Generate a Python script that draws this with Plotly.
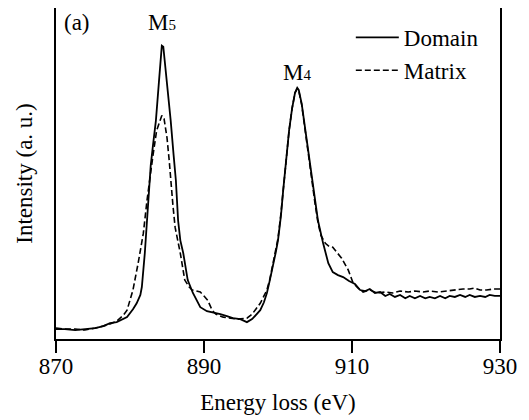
import plotly.graph_objects as go

# Energy loss (eV) and intensity (a. u.)
domain_energy = [870.0, 871.2, 872.6, 873.9, 875.3, 876.4, 877.3, 878.2, 879.1, 879.6, 880.4, 880.9, 881.4, 881.6,
                 882.0, 882.3, 882.6, 882.8, 883.1, 883.5, 883.9, 884.2, 884.3, 884.5, 884.7, 885.1, 885.5, 885.9,
                 886.2, 886.5, 886.8, 887.2, 887.8, 888.5, 889.5, 890.4, 891.2, 892.2, 893.1, 893.9, 894.9, 895.8,
                 896.5, 897.0, 897.6, 898.1, 898.5, 898.9, 899.3, 899.7, 900.0, 900.4, 900.7, 901.1, 901.5, 901.9,
                 902.3, 902.6, 902.8, 903.2, 903.6, 904.1, 904.5, 905.0, 905.4, 906.1, 906.8, 907.4, 908.1, 908.8,
                 909.6, 910.4, 911.1, 911.8, 912.4, 913.1, 913.8, 914.5, 915.1, 915.8, 916.5, 917.2, 917.8, 918.5,
                 919.2, 919.9, 920.5, 921.2, 921.9, 922.6, 923.2, 923.9, 924.6, 925.3, 925.9, 926.6, 927.3, 928.0,
                 928.6, 929.3, 930.0]
domain_intensity = [3.0, 3.0, 2.7, 3.0, 3.3, 3.9, 4.8, 5.1, 6.0, 6.6, 9.0, 10.8, 13.3, 15.7,
                    25.9, 35.8, 45.8, 52.4, 58.4, 66.0, 77.4, 86.4, 88.6, 88.3, 84.0, 75.0, 66.0, 55.4,
                    47.9, 35.8, 29.8, 25.9, 17.8, 13.9, 9.6, 8.4, 8.1, 7.5, 6.9, 6.3, 6.0, 5.1,
                    6.0, 7.2, 8.7, 11.1, 13.9, 17.8, 21.7, 26.2, 29.8, 37.3, 44.9, 53.9, 63.0, 69.6,
                    74.4, 75.9, 75.3, 71.1, 64.5, 56.9, 49.4, 41.9, 35.8, 28.9, 22.9, 20.2, 19.3, 18.7,
                    17.5, 16.6, 14.8, 14.5, 15.1, 13.9, 14.2, 13.0, 13.6, 12.7, 13.3, 12.3, 13.0, 12.3,
                    13.0, 12.3, 12.7, 12.3, 13.0, 12.3, 13.0, 12.7, 13.3, 12.7, 13.3, 12.7, 13.0, 12.7,
                    13.3, 13.0, 13.0]

matrix_energy = [870.0, 871.2, 872.6, 873.9, 875.3, 876.4, 877.3, 878.2, 879.1, 879.6, 880.4, 881.1, 881.8, 882.3,
                 882.7, 883.1, 883.6, 884.1, 884.3, 884.6, 885.0, 885.3, 885.5, 885.8, 886.1, 886.8, 887.4, 888.0,
                 888.4, 888.9, 889.5, 890.0, 890.5, 891.1, 891.6, 892.6, 893.5, 894.6, 895.8, 896.5, 897.0, 897.6,
                 898.1, 898.5, 898.9, 899.3, 899.7, 900.0, 900.4, 900.7, 901.1, 901.5, 901.9, 902.3, 902.6, 902.8,
                 903.2, 903.6, 904.1, 904.5, 905.0, 905.4, 905.8, 906.4, 906.9, 907.4, 908.0, 908.6, 909.5, 910.1,
                 910.8, 911.5, 912.4, 913.4, 914.5, 915.5, 916.5, 917.6, 918.5, 919.6, 920.5, 921.6, 922.8, 923.9,
                 925.0, 925.9, 926.6, 927.3, 928.2, 929.1, 930.0]
matrix_intensity = [3.3, 3.0, 3.0, 2.7, 3.3, 3.9, 4.5, 5.4, 7.2, 8.7, 14.8, 22.9, 31.9, 41.9,
                    49.4, 55.4, 63.0, 66.6, 67.5, 66.6, 60.8, 53.9, 47.9, 40.4, 33.7, 25.9, 17.8, 15.7,
                    14.8, 14.5, 14.2, 13.0, 11.7, 8.7, 7.5, 6.6, 6.3, 6.0, 6.3, 7.5, 9.0, 10.8,
                    13.0, 14.8, 18.1, 22.3, 26.8, 30.4, 38.0, 44.9, 53.9, 63.0, 69.6, 74.4, 75.6, 75.0,
                    70.8, 63.9, 56.3, 48.8, 41.0, 35.2, 31.3, 28.9, 28.0, 27.7, 26.2, 24.4, 20.8, 17.2,
                    15.4, 14.2, 14.8, 13.9, 14.2, 13.9, 14.5, 14.2, 14.5, 14.2, 14.5, 14.2, 14.5, 14.8,
                    15.1, 15.1, 15.4, 14.8, 14.8, 15.1, 15.1]

x_ticks = [870, 890, 910, 930]

FONT = "Liberation Serif, Times New Roman, serif"
FS = 23

fig = go.Figure()
fig.add_trace(go.Scatter(x=domain_energy, y=domain_intensity, mode="lines", name="Domain",
                         line=dict(color="black", width=1.8), legendgroup="a"))
fig.add_trace(go.Scatter(x=matrix_energy, y=matrix_intensity, mode="lines", name="Matrix",
                         line=dict(color="black", width=1.6, dash="6px,3px"), legendgroup="b"))

fig.update_layout(
    width=521, height=412,
    margin=dict(l=48, r=29, t=0, b=81, autoexpand=False),
    paper_bgcolor="white", plot_bgcolor="white",
    font=dict(family=FONT, color="black", size=FS),
    legend=dict(x=0.664, y=0.976, xanchor="left", yanchor="top", bgcolor="rgba(0,0,0,0)",
                font=dict(family=FONT, size=FS, color="black"), tracegroupgap=0, itemwidth=43),
    xaxis=dict(range=[870, 930], tickvals=x_ticks, ticks="outside", ticklen=12, tickwidth=2,
               tickcolor="black", showline=True, linecolor="black", linewidth=2, mirror=True,
               showgrid=False, zeroline=False, tickfont=dict(family=FONT, size=FS, color="black"),
               automargin=False, ticklabelstandoff=-7,
               title=dict(text="Energy loss (eV)", font=dict(family=FONT, size=FS, color="black"), standoff=16)),
    yaxis=dict(range=[0, 100], showticklabels=False, ticks="", showline=True, linecolor="black",
               linewidth=2, mirror=True, showgrid=False, zeroline=False, automargin=False,
               title=dict(text="Intensity (a. u.)", font=dict(family=FONT, size=FS, color="black"), standoff=15)),
    annotations=[
        dict(text="(a)", x=0.013, y=1.0, xref="paper", yref="paper", xanchor="left", yanchor="top",
             showarrow=False, yshift=0, font=dict(family=FONT, size=FS, color="black")),
        dict(text="M<span style='font-size:15px'>5</span>", x=884.3, y=100, xref="x", yref="y",
             yanchor="top", xanchor="center", showarrow=False, yshift=0,
             font=dict(family=FONT, size=FS, color="black")),
        dict(text="M<span style='font-size:15px'>4</span>", x=902.6, y=75.9, xref="x", yref="y",
             yanchor="bottom", xanchor="center", showarrow=False, yshift=1,
             font=dict(family=FONT, size=FS, color="black")),
    ],
)

fig.write_html("out.html")
